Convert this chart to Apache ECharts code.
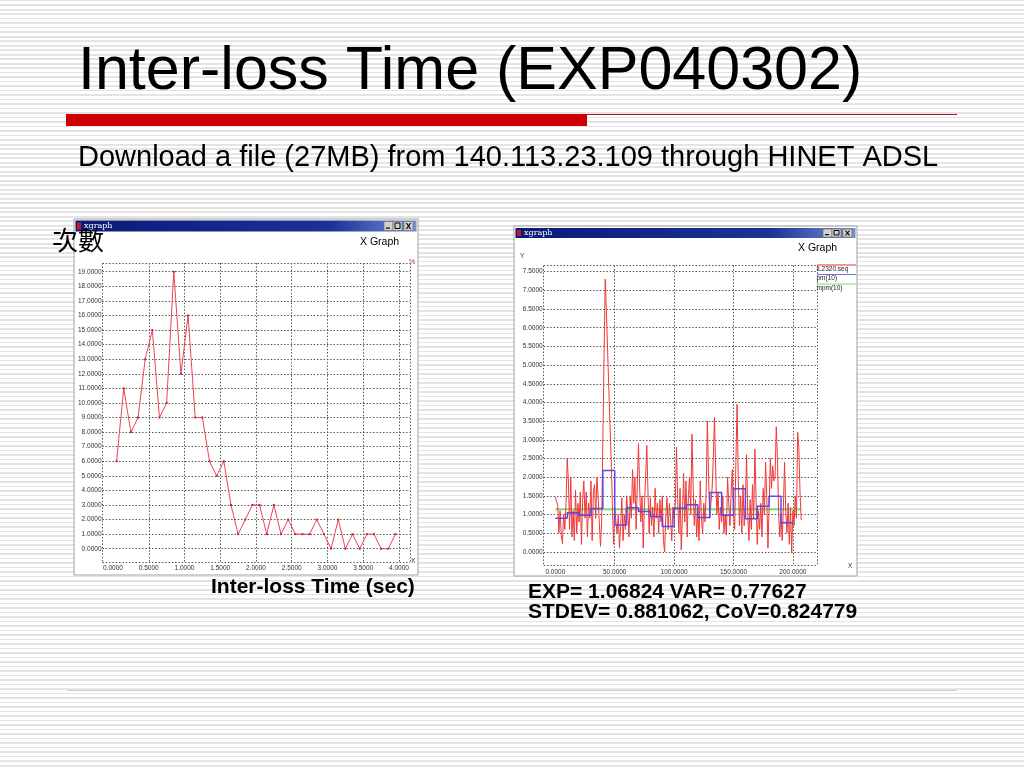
<!DOCTYPE html>
<html><head><meta charset="utf-8">
<script src="https://cdn.jsdelivr.net/npm/echarts@6/dist/echarts.min.js"></script>
<style>
html,body{margin:0;padding:0;width:1024px;height:768px;overflow:hidden;
background:#fff repeating-linear-gradient(to bottom,#e4e4e4 0px,#e4e4e4 1.5px,#ffffff 1.5px,#ffffff 4.5px);}
#c{width:1024px;height:768px;}
</style></head><body><div id="c"></div>
<script>
// ---------- data ----------
const leftX = [0.05,0.15,0.25,0.35,0.45,0.55,0.65,0.75,0.85,0.95,1.05,1.15,1.25,1.35,1.45,1.55,1.65,1.75,1.85,1.95,
               2.05,2.15,2.25,2.35,2.45,2.55,2.65,2.75,2.85,2.95,3.05,3.15,3.25,3.35,3.45,3.55,3.65,3.75,3.85,3.95];
const leftCounts = [6,11,8,9,13,15,9,10,19,12,16,9,9,6,5,6,3,1,2,3,
                    3,1,3,1,2,1,1,1,2,1,0,2,0,1,0,1,1,0,0,1];
const leftXLabels = [0,0.5,1,1.5,2,2.5,3,3.5,4];
const leftYLabels = [0,1,2,3,4,5,6,7,8,9,10,11,12,13,14,15,16,17,18,19];

const seqValues = [
 1.47,1.35,1.25,0.5,1.1,0.45,0.22,1.0,0.6,1.3,
 2.5,1.9,0.6,2.0,0.4,1.1,0.3,1.65,0.5,1.3,
 0.8,1.6,0.2,1.4,1.9,0.9,1.6,0.4,1.3,0.9,
 1.9,0.3,1.6,1.8,0.9,2.0,1.5,0.8,0.15,0.8,
 3.0,5.2,7.3,6.4,5.4,4.4,3.4,2.5,1.3,0.2,
 1.2,0.8,0.5,1.0,0.1,0.7,1.45,0.3,1.0,0.6,
 1.5,1.1,0.4,1.5,0.9,2.2,1.3,2.0,0.6,1.8,
 2.9,1.7,0.8,1.5,0.1,1.2,2.0,2.85,1.6,0.5,
 1.45,0.7,1.2,0.4,1.7,0.9,1.3,0.5,1.4,0.8,
 1.5,0.3,0.0,1.0,1.45,0.6,1.3,0.9,0.3,1.2,
 0.9,1.3,2.8,1.4,0.5,1.7,0.05,1.0,2.1,0.8,
 1.9,0.4,1.5,2.0,1.0,3.15,1.8,0.7,1.4,0.4,
 1.1,0.3,1.9,0.9,0.5,1.3,0.8,1.6,3.5,2.0,
 0.9,1.3,1.7,2.5,3.6,2.2,1.0,1.6,0.6,1.2,
 0.8,1.5,0.5,1.0,0.45,2.0,1.3,0.7,1.6,2.2,
 1.0,0.6,2.4,3.95,2.0,0.7,1.5,0.5,1.8,0.7,
 1.3,2.6,1.0,0.3,1.4,0.6,1.8,0.9,2.75,1.4,
 0.2,1.1,0.6,1.3,0.4,1.7,1.0,2.4,1.5,0.1,
 1.2,2.5,1.7,2.3,1.9,2.0,3.35,2.5,1.0,0.4,
 1.0,0.3,1.2,2.4,1.1,0.5,1.3,0.2,1.2,0.0,
 1.1,0.7,1.5,0.9,3.2,2.8,1.6,0.85];
const pmX = [0,10,20,30,40,50,60,70,80,90,100,110,120,130,140,150,160,170,180,190,200];
const pmY = [0.90,1.05,0.98,1.16,2.18,0.72,1.18,1.08,0.95,0.68,1.17,1.26,0.92,1.59,0.98,1.69,0.89,1.22,1.49,0.78,0.78];
const mpmX = [0,207];
const mpmY = [1.14,1.14];
const rightXLabels = [0,50,100,150,200];
const rightYLabels = [0,0.5,1,1.5,2,2.5,3,3.5,4,4.5,5,5.5,6,6.5,7,7.5];
const legendNames = ['iL2320.seq','pm(10)','mpm(10)'];

// ---------- chart ----------
const FONT = '"Liberation Sans", Arial, sans-serif';
const chart = echarts.init(document.getElementById('c'), null, {renderer:'canvas', width:1024, height:768});

function axis(gridIndex, min, max, labelVals, isY){
  return {
    type:'value', gridIndex:gridIndex, min:min, max:max,
    axisLine:{show:false},
    axisTick:{show:false, customValues:[min].concat(labelVals).concat([max])},
    splitLine:{show:true, lineStyle:{color:'#555555', width:1, type:[1.5,1.8]}},
    axisLabel:{customValues:labelVals, formatter:function(v){return Number(v).toFixed(4);},
      fontSize:6.5, color:'#303030', fontFamily:FONT, margin:isY?1:3}
  };
}
function xTicks(min,max,labels){ // xgraph draws no vertical grid line at x = 0
  return [min].concat(labels.filter(v=>v!==0)).concat([max]);
}

const lx = axis(0,-0.147,4.154,leftXLabels,false); lx.axisTick.customValues = xTicks(-0.147,4.154,leftXLabels);
const ly = axis(0,-0.91,19.6,leftYLabels,true);
const rx = axis(1,-9.8,220.3,rightXLabels,false); rx.axisTick.customValues = xTicks(-9.8,220.3,rightXLabels);
const ry = axis(1,-0.37,7.66,rightYLabels,true);

function win(x,y,w,h,barY,barH){
  const e=[];
  e.push({type:'rect', z:-10, shape:{x:x,y:y,width:w,height:h}, style:{fill:'#ffffff', stroke:'#a0a0a0', lineWidth:1}});
  e.push({type:'rect', z:-9, shape:{x:x+1.5,y:barY,width:w-3,height:barH},
    style:{fill:{type:'linear',x:0,y:0,x2:1,y2:0,colorStops:[{offset:0,color:'#0a1a78'},{offset:0.75,color:'#1c3294'},{offset:1,color:'#7090d8'}]}}});
  e.push({type:'rect', z:-8, shape:{x:x+3,y:barY+2,width:4,height:barH-4}, style:{fill:'#c81818'}});
  e.push({type:'text', z:-8, x:x+10, y:barY+barH/2, style:{text:'xgraph', font:'8px "DejaVu Serif", serif', fill:'#ffffff', textVerticalAlign:'middle', verticalAlign:'middle'}});
  const bh=barH-2, by=barY+1, bx=x+w-34;
  [bx,bx+9,bx+20].forEach(function(px,i){
    e.push({type:'rect', z:-8, shape:{x:px,y:by,width:9,height:bh}, style:{fill:'#d4d0c8', stroke:'#6a6a6a', lineWidth:0.6}});
    if(i===0) e.push({type:'rect', z:-7, shape:{x:px+2,y:by+bh-3,width:4,height:1.2}, style:{fill:'#000'}});
    if(i===1) e.push({type:'rect', z:-7, shape:{x:px+2,y:by+1.5,width:5,height:bh-3.5}, style:{fill:'none', stroke:'#000', lineWidth:1}});
    if(i===2){
      e.push({type:'line', z:-7, shape:{x1:px+2.5,y1:by+1.5,x2:px+6.5,y2:by+bh-1.5}, style:{stroke:'#000', lineWidth:1.2}});
      e.push({type:'line', z:-7, shape:{x1:px+6.5,y1:by+1.5,x2:px+2.5,y2:by+bh-1.5}, style:{stroke:'#000', lineWidth:1.2}});
    }
  });
  return e;
}
function txt(x,y,s,font,opts){
  const st = Object.assign({text:s, font:font, fill:'#000', textAlign:'left', align:'left', textVerticalAlign:'middle', verticalAlign:'middle'}, opts||{});
  return {type:'text', x:x, y:y, z:50, style:st};
}

const legendColors = ['#e83040','#7070f0','#70e070'];
const legendEls = [];
legendNames.forEach(function(n,i){
  const ly0 = 265 + i*9.5;
  legendEls.push({type:'line', z:5, shape:{x1:817,y1:ly0,x2:856,y2:ly0}, style:{stroke:legendColors[i], lineWidth:1}});
  legendEls.push(txt(816.5, ly0+4, n, '6.5px '+FONT, {fill:'#222'}));
});

const graphics = [].concat(
  [
    {type:'rect', z:-20, shape:{x:66,y:114,width:521,height:12}, style:{fill:'#cc0000'}},
    {type:'line', z:-20, shape:{x1:587,y1:114.5,x2:957,y2:114.5}, style:{stroke:'#b01020', lineWidth:1}},
    {type:'line', z:-20, shape:{x1:67,y1:690.5,x2:957,y2:690.5}, style:{stroke:'#d8c4c4', lineWidth:1}},
    txt(78, 72, 'Inter-loss Time (EXP040302)', '61px '+FONT),
    txt(78, 157.5, 'Download a file (27MB) from 140.113.23.109 through HINET ADSL', '29px '+FONT),
    txt(211, 587, 'Inter-loss Time (sec)', 'bold 21px '+FONT),
    txt(528, 592, 'EXP= 1.06824 VAR= 0.77627', 'bold 21px '+FONT),
    txt(528, 612, 'STDEV= 0.881062, CoV=0.824779', 'bold 21px '+FONT)
  ],
  win(74,219,344,356,220.5,11),
  win(514,226,343,350,228,10),
  [
    txt(360, 242.5, 'X Graph', '10.5px '+FONT),
    txt(798, 248.3, 'X Graph', '10.5px '+FONT),
    txt(520, 256, 'Y', '6.5px '+FONT, {fill:'#333'}),
    txt(848, 566, 'X', '6.5px '+FONT, {fill:'#333'}),
    txt(411, 561, 'X', '6.5px '+FONT, {fill:'#333'}),
    txt(409, 262, '%', '7px '+FONT, {fill:'#b03050'}),
    txt(52, 240, '次數', '26px "Noto Sans CJK TC", "Noto Sans CJK SC", sans-serif', {fill:'#000'})
  ],
  legendEls
);

chart.setOption({
  backgroundColor:'transparent',
  animation:false,
  tooltip:{show:false},
  grid:[
    {left:102.5, top:263, width:307.5, height:299, containLabel:false, outerBoundsMode:'none'},
    {left:543.7, top:265.7, width:273.3, height:300, containLabel:false, outerBoundsMode:'none'}
  ],
  xAxis:[lx, rx],
  yAxis:[ly, ry],
  graphic:{elements:graphics},
  series:[
    {type:'line', xAxisIndex:0, yAxisIndex:0, silent:true, data:leftX.map(function(x,i){return [x,leftCounts[i]];}),
      lineStyle:{color:'#ee4455', width:1}, itemStyle:{color:'#c02838'}, symbol:'rect', symbolSize:2, showSymbol:true, emphasis:{disabled:true}},
    {type:'line', xAxisIndex:1, yAxisIndex:1, silent:true, data:mpmX.map(function(x,i){return [x,mpmY[i]];}),
      lineStyle:{color:'#70e070', width:2}, symbol:'none', emphasis:{disabled:true}},
    {type:'line', xAxisIndex:1, yAxisIndex:1, silent:true, data:seqValues.map(function(v,i){return [i,v];}),
      lineStyle:{color:'#f03838', width:1}, symbol:'none', emphasis:{disabled:true}},
    {type:'line', xAxisIndex:1, yAxisIndex:1, silent:true, step:'end', data:pmX.map(function(x,i){return [x,pmY[i]];}),
      lineStyle:{color:'#5a48e6', width:1.5}, symbol:'none', emphasis:{disabled:true}}
  ]
});
</script></body></html>
